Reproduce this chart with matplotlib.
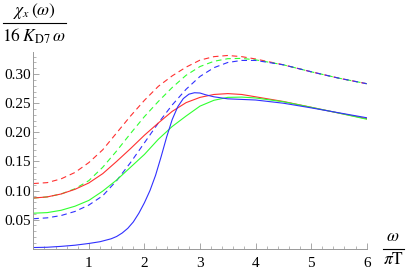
import numpy as np
import matplotlib
matplotlib.use("Agg")
import matplotlib.pyplot as plt
from matplotlib.lines import Line2D
from matplotlib.ticker import MultipleLocator, FixedLocator

# omega / (pi T) sample points
w = [0, 0.25, 0.5, 0.75, 1.0, 1.25, 1.5, 1.75, 2.0, 2.25, 2.5, 2.75,
     3.0, 3.25, 3.5, 3.75, 4.0, 4.5, 5.0, 5.5, 6.0]

# dashed curves
red_dash = [0.112, 0.1135, 0.120, 0.131, 0.148, 0.170, 0.199, 0.228, 0.255, 0.279, 0.297, 0.312,
            0.324, 0.330, 0.332, 0.330, 0.326, 0.316, 0.304, 0.293, 0.2835]
green_dash = [0.087, 0.089, 0.094, 0.103, 0.117, 0.140, 0.168, 0.198, 0.227, 0.253, 0.277, 0.298,
              0.313, 0.322, 0.3265, 0.327, 0.3245, 0.316, 0.304, 0.293, 0.2835]
blue_dash = [0.0515, 0.053, 0.057, 0.064, 0.075, 0.091, 0.117, 0.148, 0.182, 0.216, 0.247, 0.274,
             0.296, 0.311, 0.320, 0.3235, 0.3235, 0.316, 0.304, 0.293, 0.2835]

# solid curves
red_solid = [0.087, 0.089, 0.094, 0.102, 0.113, 0.129, 0.150, 0.172, 0.195, 0.216, 0.236, 0.251,
             0.260, 0.265, 0.2665, 0.265, 0.261, 0.253, 0.243, 0.233, 0.2235]
green_solid = [0.061, 0.062, 0.066, 0.073, 0.083, 0.099, 0.118, 0.140, 0.162, 0.188, 0.210, 0.228,
               0.245, 0.255, 0.260, 0.2605, 0.259, 0.2525, 0.243, 0.233, 0.2225]

w_b = [0, 0.25, 0.5, 0.75, 1.0, 1.2, 1.4, 1.5, 1.6, 1.7, 1.8, 1.9, 2.0, 2.1, 2.2, 2.3, 2.4,
       2.5, 2.6, 2.7, 2.8, 2.9, 3.0, 3.1, 3.25, 3.5, 3.75, 4.0, 4.5, 5.0, 5.5, 6.0]
blue_solid = [0.002, 0.0025, 0.004, 0.006, 0.009, 0.012, 0.017, 0.021, 0.027, 0.035, 0.046,
              0.061, 0.079, 0.100, 0.126, 0.158, 0.192, 0.222, 0.244, 0.258, 0.2655, 0.268,
              0.2675, 0.2645, 0.261, 0.2575, 0.2565, 0.2555, 0.250, 0.242, 0.2335, 0.225]

plt.rcParams['mathtext.fontset'] = 'stix'
plt.rcParams['font.family'] = 'Liberation Serif'

W, H = 409, 273
fig = plt.figure(figsize=(W / 100, H / 100), dpi=100)
ax = fig.add_axes([33.3 / W, 24.3 / H, 333.4 / W, 197 / H])

lw = 0.8
dash = (0, (5, 3.5))
ax.plot(w, red_dash, color='#ff3030', lw=lw, linestyle=dash)
ax.plot(w, green_dash, color='#30ff30', lw=lw, linestyle=dash)
ax.plot(w, blue_dash, color='#3030ff', lw=lw, linestyle=dash)
ax.plot(w, red_solid, color='#ff3030', lw=lw)
ax.plot(w, green_solid, color='#30ff30', lw=lw)
ax.plot(w_b, blue_solid, color='#3030ff', lw=lw)

ax.set_xlim(0, 6)
ax.set_ylim(0, 0.3385)
ax.spines['top'].set_visible(False)
ax.spines['right'].set_visible(False)
for s in ('left', 'bottom'):
    ax.spines[s].set_color('#999999')
    ax.spines[s].set_linewidth(0.7)

ax.xaxis.set_major_locator(FixedLocator([1, 2, 3, 4, 5, 6]))
ax.xaxis.set_minor_locator(MultipleLocator(0.2))
ax.yaxis.set_major_locator(FixedLocator([0.05, 0.10, 0.15, 0.20, 0.25, 0.30]))
ax.yaxis.set_minor_locator(MultipleLocator(0.01))
ax.set_yticklabels(['0.05', '0.10', '0.15', '0.20', '0.25', '0.30'])
ax.tick_params(which='both', direction='in', color='#999999', labelsize=11)
ax.tick_params(axis='x', pad=6)
ax.tick_params(axis='y', pad=2)
ax.tick_params(which='major', length=4, width=0.6)
ax.tick_params(which='minor', length=2, width=0.5)


def frac_label(xc, y_num, y_bar, y_den, x0, x1, num, den, size):
    # fraction built from two texts and a bar, pixel coordinates from top-left
    fig.text(xc / W, 1 - y_num / H, num, ha='center', va='center', fontsize=size)
    fig.text(xc / W, 1 - y_den / H, den, ha='center', va='center', fontsize=size)
    fig.add_artist(Line2D([x0 / W, x1 / W], [1 - y_bar / H, 1 - y_bar / H],
                          transform=fig.transFigure, color='black', lw=0.8))


frac_label(34, 11, 23, 36, 3, 66, r'$\chi_x\,(\omega)$', r'$16\;K_{\mathrm{D7}}\,\omega$', 12.5)
frac_label(393, 237, 248.5, 260, 383, 404, r'$\omega$', r'$\pi\mathrm{T}$', 12.5)

fig.savefig('out.png', dpi=100)
